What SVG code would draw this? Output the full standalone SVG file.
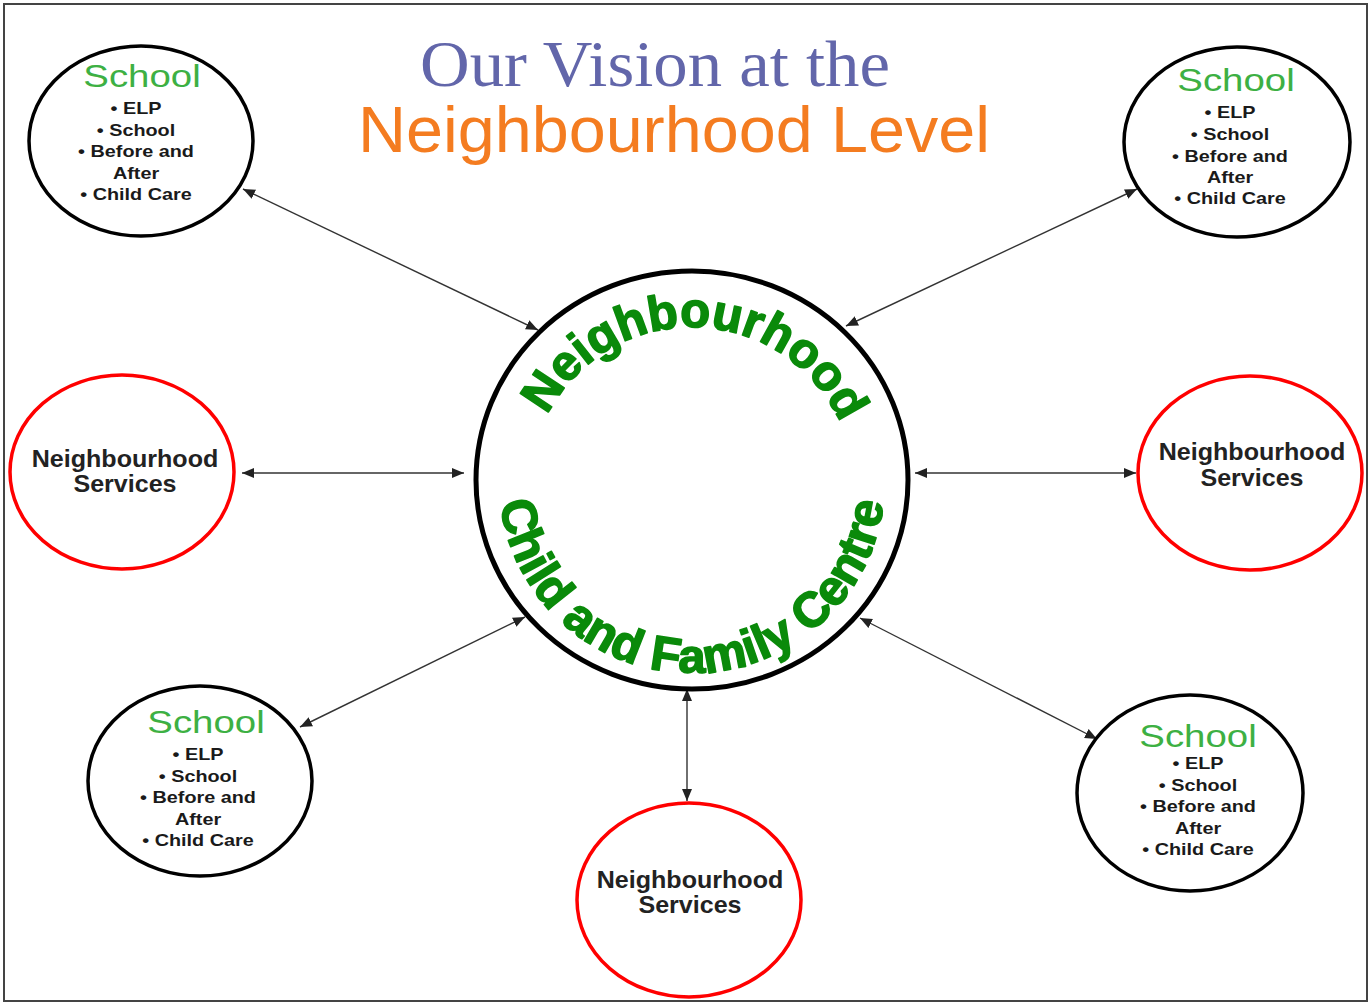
<svg xmlns="http://www.w3.org/2000/svg" width="1369" height="1003" viewBox="0 0 1369 1003">
<style>
.bg{fill:#ffffff}
.frame{fill:none;stroke:#444;stroke-width:2}
.school{fill:#fff;stroke:#000;stroke-width:3.5}
.ns{fill:#fff;stroke:#ff0000;stroke-width:3.5}
.hub{fill:#fff;stroke:#000;stroke-width:5}
.stitle{font-family:"Liberation Sans",Arial,sans-serif;font-size:32px;fill:#3db043;text-anchor:middle}
.item{font-family:"Liberation Sans",Arial,sans-serif;font-size:16.5px;font-weight:bold;fill:#1a1a1a;text-anchor:middle}
.nst{font-family:"Liberation Sans",Arial,sans-serif;font-size:23px;font-weight:bold;fill:#222;text-anchor:middle}
.arc{font-family:"Liberation Sans",Arial,sans-serif;font-size:49px;font-weight:bold;fill:#0a8a0a;stroke:#0a8a0a;stroke-width:1.6;stroke-linejoin:round;text-anchor:middle}
.conn line{stroke:#333;stroke-width:1.4;marker-start:url(#ah);marker-end:url(#ah)}
</style>
<defs>
<marker id="ah" markerUnits="userSpaceOnUse" markerWidth="13" markerHeight="11" refX="12" refY="5.5" orient="auto-start-reverse">
<path d="M0,0.5 L12,5.5 L0,10.5 Z" fill="#222"/>
</marker>
<path id="arcTop" d="M 529,490 A 163,163 0 0 1 855,490"/>
<path id="arcBot" d="M 499,480 A 193,193 0 0 0 885,480"/>
</defs>
<rect class="bg" x="0" y="0" width="1369" height="1003"/>
<rect class="frame" x="4" y="4" width="1363" height="997"/>

<g id="title">
<text x="655" y="86" font-family="'Liberation Serif','Times New Roman',serif" font-size="65" fill="#6266aa" text-anchor="middle" textLength="470" lengthAdjust="spacingAndGlyphs">Our Vision at the</text>
<text x="674" y="152" font-family="'Liberation Sans',Arial,sans-serif" font-size="64" fill="#f47c20" text-anchor="middle" textLength="632" lengthAdjust="spacingAndGlyphs">Neighbourhood Level</text>
</g>

<g class="conn" id="connectors">
<line x1="243" y1="189" x2="538" y2="330"/>
<line x1="1137" y1="189" x2="846" y2="326"/>
<line x1="242" y1="473" x2="464" y2="473"/>
<line x1="915" y1="473" x2="1136" y2="473"/>
<line x1="300" y1="727" x2="525" y2="617"/>
<line x1="687" y1="689" x2="687" y2="801"/>
<line x1="860" y1="618" x2="1097" y2="739"/>
</g>

<g id="hub">
<ellipse class="hub" cx="692" cy="480" rx="216" ry="209"/>
<g transform="rotate(1.5 692 490)">
<text class="arc"><textPath href="#arcTop" startOffset="50%">Neighbourhood</textPath></text>
</g>
<text class="arc"><textPath href="#arcBot" startOffset="50%">Child and Family Centre</textPath></text>
</g>

<g id="school-tl">
<ellipse class="school" cx="141" cy="141" rx="112" ry="95"/>
<g transform="matrix(1.2 0 0 1 142 0)"><text class="stitle" x="0" y="87">School</text></g>
<g transform="matrix(1.2 0 0 1 136 0)">
<text class="item" x="0" y="114">• ELP</text>
<text class="item" x="0" y="136">• School</text>
<text class="item" x="0" y="157">• Before and</text>
<text class="item" x="0" y="179">After</text>
<text class="item" x="0" y="200">• Child Care</text>
</g>
</g>

<g id="school-tr">
<ellipse class="school" cx="1237" cy="142" rx="113" ry="95"/>
<g transform="matrix(1.2 0 0 1 1236 0)"><text class="stitle" x="0" y="91">School</text></g>
<g transform="matrix(1.2 0 0 1 1230 0)">
<text class="item" x="0" y="118">• ELP</text>
<text class="item" x="0" y="140">• School</text>
<text class="item" x="0" y="162">• Before and</text>
<text class="item" x="0" y="183">After</text>
<text class="item" x="0" y="204">• Child Care</text>
</g>
</g>

<g id="school-bl">
<ellipse class="school" cx="200" cy="781" rx="112" ry="95"/>
<g transform="matrix(1.2 0 0 1 206 0)"><text class="stitle" x="0" y="733">School</text></g>
<g transform="matrix(1.2 0 0 1 198 0)">
<text class="item" x="0" y="760">• ELP</text>
<text class="item" x="0" y="782">• School</text>
<text class="item" x="0" y="803">• Before and</text>
<text class="item" x="0" y="825">After</text>
<text class="item" x="0" y="846">• Child Care</text>
</g>
</g>

<g id="school-br">
<ellipse class="school" cx="1190" cy="793" rx="113" ry="98"/>
<g transform="matrix(1.2 0 0 1 1198 0)"><text class="stitle" x="0" y="747">School</text></g>
<g transform="matrix(1.2 0 0 1 1198 0)">
<text class="item" x="0" y="769">• ELP</text>
<text class="item" x="0" y="791">• School</text>
<text class="item" x="0" y="812">• Before and</text>
<text class="item" x="0" y="834">After</text>
<text class="item" x="0" y="855">• Child Care</text>
</g>
</g>

<g id="ns-left">
<ellipse class="ns" cx="122" cy="472" rx="112" ry="97"/>
<g transform="matrix(1.09 0 0 1 125 0)">
<text class="nst" x="0" y="467">Neighbourhood</text>
<text class="nst" x="0" y="492">Services</text>
</g>
</g>

<g id="ns-right">
<ellipse class="ns" cx="1250" cy="473" rx="112" ry="97"/>
<g transform="matrix(1.09 0 0 1 1252 0)">
<text class="nst" x="0" y="460">Neighbourhood</text>
<text class="nst" x="0" y="486">Services</text>
</g>
</g>

<g id="ns-bottom">
<ellipse class="ns" cx="689" cy="900" rx="112" ry="97"/>
<g transform="matrix(1.09 0 0 1 690 0)">
<text class="nst" x="0" y="888">Neighbourhood</text>
<text class="nst" x="0" y="913">Services</text>
</g>
</g>
</svg>
